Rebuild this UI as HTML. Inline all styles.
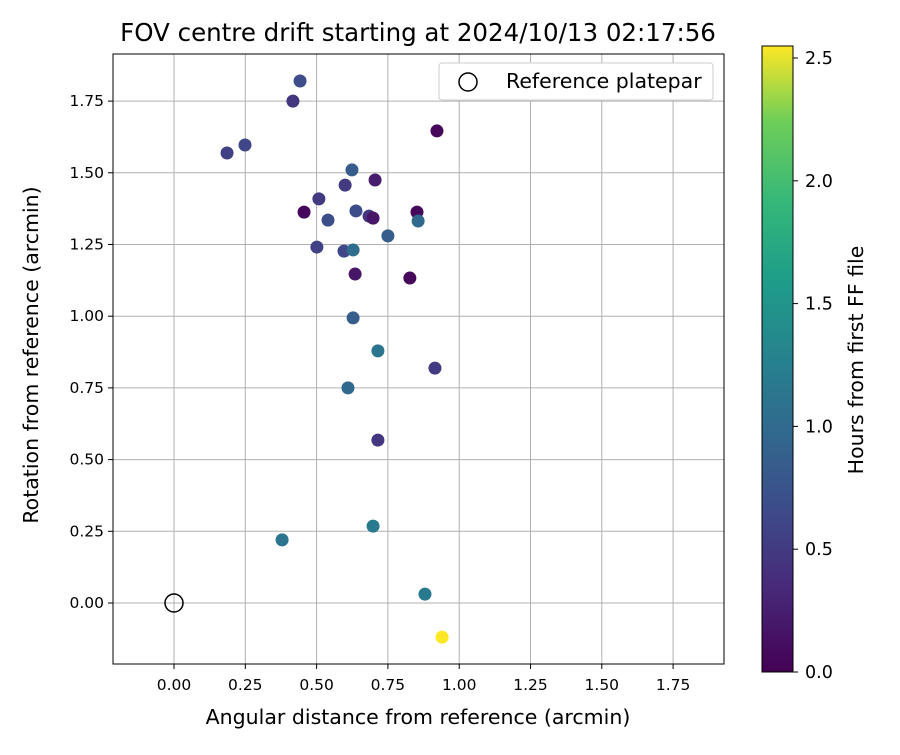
<!DOCTYPE html>
<html><head><meta charset="utf-8"><style>
body{margin:0;background:#fff;font-family:"Liberation Sans","DejaVu Sans",sans-serif}
text{font-family:"DejaVu Sans","Liberation Sans",sans-serif}
</style></head><body>
<svg id="chart" width="900" height="750" xmlns="http://www.w3.org/2000/svg">
<defs><linearGradient id="vir" x1="0" y1="1" x2="0" y2="0">
<stop offset="0" stop-color="#440154"/><stop offset="0.13" stop-color="#482878"/><stop offset="0.25" stop-color="#3e4989"/><stop offset="0.38" stop-color="#31688e"/><stop offset="0.5" stop-color="#26828e"/><stop offset="0.63" stop-color="#1f9e89"/><stop offset="0.75" stop-color="#35b779"/><stop offset="0.88" stop-color="#6ece58"/><stop offset="1" stop-color="#fde725"/></linearGradient></defs>
<text x="418" y="41" font-size="24.5" text-anchor="middle">FOV centre drift starting at 2024/10/13 02:17:56</text>
<g id="grid"></g><g id="axes"></g><g id="pts"></g>
<rect x="113" y="54" width="611" height="610" fill="none" stroke="#000" stroke-width="1"/>
<text x="418" y="724" font-size="20.5" text-anchor="middle">Angular distance from reference (arcmin)</text>
<text transform="translate(38,355) rotate(-90)" font-size="20.5" text-anchor="middle">Rotation from reference (arcmin)</text>
<g>
<rect x="439" y="63" width="274" height="37" rx="3" fill="#fff" stroke="#ccc"/>
<circle cx="468" cy="82" r="9" fill="none" stroke="#000" stroke-width="1.5"/>
<text x="506" y="88" font-size="20.5">Reference platepar</text></g>
<rect x="762" y="46" width="31" height="626" fill="url(#vir)" stroke="#000"/>
<g id="cbticks"></g>
<text transform="translate(863,360) rotate(-90)" font-size="20.5" text-anchor="middle">Hours from first FF file</text>
</svg>
<script>
const xs=[0.442,0.417,0.922,0.249,0.186,0.624,0.705,0.600,0.508,0.456,0.638,0.852,0.684,0.698,0.540,0.856,0.750,0.501,0.596,0.628,0.635,0.827,0.628,0.715,0.915,0.610,0.715,0.379,0.698,0.880,0.940];
const ys=[1.820,1.750,1.646,1.597,1.569,1.510,1.475,1.457,1.409,1.363,1.367,1.363,1.349,1.342,1.335,1.332,1.280,1.241,1.227,1.231,1.147,1.133,0.994,0.879,0.819,0.750,0.568,0.220,0.268,0.031,-0.119];
const hours=[0.6,0.4,0.05,0.55,0.5,0.75,0.2,0.45,0.45,0.05,0.6,0.05,0.4,0.15,0.6,0.85,0.75,0.5,0.55,0.9,0.15,0.05,0.75,1.0,0.45,0.85,0.4,1.0,1.05,1.05,2.55];
const xTicks=[0,0.25,0.5,0.75,1,1.25,1.5,1.75];
const yTicks=[0,0.25,0.5,0.75,1,1.25,1.5,1.75];
const cTicks=[0,0.5,1,1.5,2,2.5];
const sx=v=>174+v*285.2, sy=v=>603-v*286.8, cy=v=>672-v*245.6, cmax=2.549;
const NS='http://www.w3.org/2000/svg';
function mk(t,a,p){const e=document.createElementNS(NS,t);for(const k in a)e.setAttribute(k,a[k]);p.appendChild(e);return e;}
const vir=[[68,1,84],[72,40,120],[62,73,137],[49,104,142],[38,130,142],[31,158,137],[53,183,121],[110,206,88],[181,222,43],[253,231,37]];
function col(h){let t=Math.max(0,Math.min(1,h/cmax))*(vir.length-1);const i=Math.min(vir.length-2,Math.floor(t)),f=t-i;const c=vir[i].map((v,k)=>Math.round(v+(vir[i+1][k]-v)*f));return `rgb(${c})`;}
const g=document.getElementById('grid'),ax=document.getElementById('axes'),pg=document.getElementById('pts'),cb=document.getElementById('cbticks');
xTicks.forEach(v=>{const x=sx(v);
const l=mk('line',{x1:x,x2:x,y1:54,y2:664,stroke:'#b0b0b0','stroke-width':1},g);


mk('line',{x1:x,x2:x,y1:664,y2:669,stroke:'#000'},ax);
const t=mk('text',{x:x,y:690,'font-size':15.5,'text-anchor':'middle'},ax);t.textContent=v.toFixed(2);

});
yTicks.forEach(v=>{const y=sy(v);
const l=mk('line',{x1:113,x2:724,y1:y,y2:y,stroke:'#b0b0b0','stroke-width':1},g);


mk('line',{x1:108,x2:113,y1:y,y2:y,stroke:'#000'},ax);
const t=mk('text',{x:104,y:y+5,'font-size':15.5,'text-anchor':'end'},ax);t.textContent=v.toFixed(2);

});
cTicks.forEach(v=>{const y=cy(v);
mk('line',{x1:793,x2:798,y1:y,y2:y,stroke:'#000'},cb);
const t=mk('text',{x:805,y:y+6,'font-size':17.5},cb);t.textContent=v.toFixed(1);

});
const r=mk('circle',{cx:sx(0),cy:sy(0),r:9,fill:'none',stroke:'#000','stroke-width':1.5},pg);


xs.forEach((x,i)=>{const c=mk('circle',{cx:sx(x),cy:sy(ys[i]),r:6.5,fill:col(hours[i])},pg);

});
</script>
</body></html>
